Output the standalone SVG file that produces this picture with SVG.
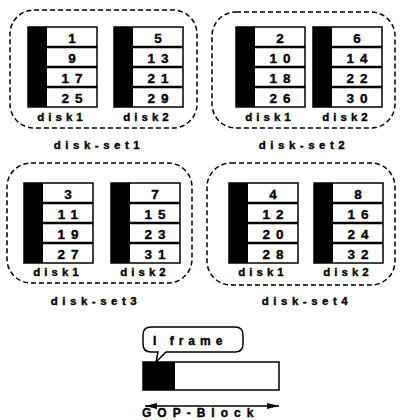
<svg xmlns="http://www.w3.org/2000/svg" width="400" height="420" viewBox="0 0 400 420">
  <style>
    text { font-family: "Liberation Sans", Arial, sans-serif; font-weight: bold; fill: #000; stroke: #000; stroke-width: 0.35; }
    .num { font-size: 13.5px; letter-spacing: 6px; text-anchor: middle; }
    .dlab { font-size: 11.5px; letter-spacing: 4px; text-anchor: middle; }
    .slab { font-size: 11.5px; letter-spacing: 4.5px; text-anchor: middle; }
    .set { fill: none; stroke: #000; stroke-width: 1.5; stroke-dasharray: 5 3; }
  </style>
  <defs>
    <!-- one disk: black spine plus four stacked block cells -->
    <g id="disk">
      <rect x="0" y="0" width="69" height="80" fill="#fff" stroke="#000" stroke-width="1.5"/>
      <rect x="0" y="0" width="19" height="80" fill="#000"/>
      <path d="M19 20H69M19 40H69M19 60H69" stroke="#000" stroke-width="2.5"/>
    </g>
    <marker id="ah" viewBox="0 0 12 6" refX="12" refY="3" markerWidth="12" markerHeight="6" markerUnits="userSpaceOnUse" orient="auto-start-reverse">
      <path d="M0 0L12 3L0 6Z" fill="#000"/>
    </marker>
  </defs>

  <!-- disk-set 1 -->
  <g id="disk-set1">
    <rect class="set" x="10" y="10" width="187" height="118" rx="24"/>
    <use href="#disk" x="28" y="27"/>
    <use href="#disk" x="114" y="27"/>
    <text class="num" x="75" y="42.5">1</text>
    <text class="num" x="75" y="62.5">9</text>
    <text class="num" x="75" y="82.5">17</text>
    <text class="num" x="75" y="102.5">25</text>
    <text class="num" x="161" y="42.5">5</text>
    <text class="num" x="161" y="62.5">13</text>
    <text class="num" x="161" y="82.5">21</text>
    <text class="num" x="161" y="102.5">29</text>
    <text class="dlab" x="62" y="121">disk1</text>
    <text class="dlab" x="148" y="121">disk2</text>
    <text class="slab" x="99" y="149">disk-set1</text>
  </g>

  <!-- disk-set 2 -->
  <g id="disk-set2">
    <rect class="set" x="212" y="12" width="183" height="116" rx="24"/>
    <use href="#disk" x="236" y="27"/>
    <use href="#disk" x="313" y="27"/>
    <text class="num" x="283" y="42.5">2</text>
    <text class="num" x="283" y="62.5">10</text>
    <text class="num" x="283" y="82.5">18</text>
    <text class="num" x="283" y="102.5">26</text>
    <text class="num" x="360" y="42.5">6</text>
    <text class="num" x="360" y="62.5">14</text>
    <text class="num" x="360" y="82.5">22</text>
    <text class="num" x="360" y="102.5">30</text>
    <text class="dlab" x="270" y="121">disk1</text>
    <text class="dlab" x="347" y="121">disk2</text>
    <text class="slab" x="304" y="149">disk-set2</text>
  </g>

  <!-- disk-set 3 -->
  <g id="disk-set3">
    <rect class="set" x="7" y="163" width="185" height="120" rx="24"/>
    <use href="#disk" x="24" y="183"/>
    <use href="#disk" x="111" y="183"/>
    <text class="num" x="71" y="198.5">3</text>
    <text class="num" x="71" y="218.5">11</text>
    <text class="num" x="71" y="238.5">19</text>
    <text class="num" x="71" y="258.5">27</text>
    <text class="num" x="158" y="198.5">7</text>
    <text class="num" x="158" y="218.5">15</text>
    <text class="num" x="158" y="238.5">23</text>
    <text class="num" x="158" y="258.5">31</text>
    <text class="dlab" x="58" y="276">disk1</text>
    <text class="dlab" x="145" y="276">disk2</text>
    <text class="slab" x="96" y="305">disk-set3</text>
  </g>

  <!-- disk-set 4 -->
  <g id="disk-set4">
    <rect class="set" x="207" y="163" width="188" height="122" rx="24"/>
    <use href="#disk" x="229" y="183"/>
    <use href="#disk" x="314" y="183"/>
    <text class="num" x="276" y="198.5">4</text>
    <text class="num" x="276" y="218.5">12</text>
    <text class="num" x="276" y="238.5">20</text>
    <text class="num" x="276" y="258.5">28</text>
    <text class="num" x="361" y="198.5">8</text>
    <text class="num" x="361" y="218.5">16</text>
    <text class="num" x="361" y="238.5">24</text>
    <text class="num" x="361" y="258.5">32</text>
    <text class="dlab" x="263" y="276">disk1</text>
    <text class="dlab" x="348" y="276">disk2</text>
    <text class="slab" x="307" y="305">disk-set4</text>
  </g>

  <!-- GOP block with its I-frame callout -->
  <g id="gop-block">
    <rect x="143" y="362" width="136" height="28" fill="#fff" stroke="#000" stroke-width="1.5"/>
    <rect x="143" y="362" width="32" height="28" fill="#000"/>
    <text x="142" y="417" style="font-size:12px;letter-spacing:6px">GOP-Block</text>
  </g>
  <g id="i-frame">
    <path d="M151 327H235Q243 327 243 335V344Q243 352 235 352H166L156 362L158 352H151Q143 352 143 344V335Q143 327 151 327Z" fill="#fff" stroke="#000" stroke-width="1.5"/>
    <text x="153" y="345" style="font-size:12px;letter-spacing:5px">I frame</text>
  </g>

  <g id="connectors">
    <line x1="145" y1="406" x2="279" y2="406" stroke="#000" stroke-width="1.5" marker-start="url(#ah)" marker-end="url(#ah)"/>
  </g>
</svg>
